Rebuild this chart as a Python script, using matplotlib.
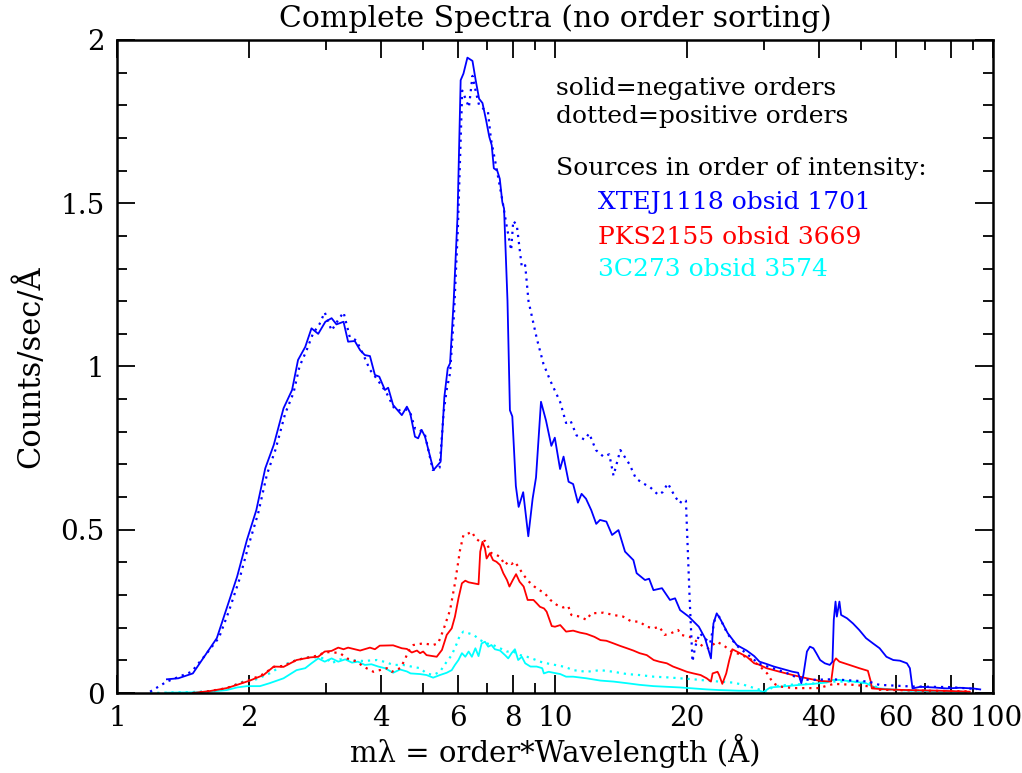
import matplotlib
matplotlib.use("Agg")
import matplotlib.pyplot as plt
from matplotlib.ticker import FixedLocator, NullFormatter

# ── Data ─────────────────────────────────────────────────────────────
# XTEJ1118 obsid 1701
xte_neg_wav = [1.30, 1.38, 1.49, 1.69, 1.78, 1.88, 1.98, 2.08, 2.18, 2.28, 2.40, 2.51,
               2.59, 2.69, 2.78, 2.88, 2.99, 3.09, 3.17, 3.29, 3.37, 3.49, 3.59, 3.68,
               3.78, 3.88, 3.97, 4.09, 4.16, 4.27, 4.47, 4.59, 4.67, 4.79, 4.87, 4.96,
               5.05, 5.28, 5.48, 5.59, 5.69, 5.76, 5.87, 5.99, 6.09, 6.18, 6.31, 6.48,
               6.59, 6.71, 6.83, 6.96, 7.08, 7.17, 7.25, 7.38, 7.48, 7.58, 7.65, 7.79,
               7.89, 7.99, 8.14, 8.26, 8.46, 8.69, 8.89, 9.05, 9.29, 9.54, 9.81, 9.99,
               10.27, 10.46, 10.74, 11.0, 11.28, 11.5, 11.77, 12.1, 12.42, 12.67, 13.1,
               13.5, 13.96, 14.45, 15.1, 15.36, 16.05, 16.4, 16.78, 17.55, 18.3, 18.8,
               19.3, 20.2, 21.3, 22.0, 22.7, 23.0, 23.4, 23.9, 24.8, 26.0, 27.4, 28.5,
               29.3, 30.4, 31.6, 32.6, 33.8, 34.9, 35.9, 36.5, 36.9, 37.6, 38.2, 38.9,
               39.5, 40.3, 41.3, 42.4, 43.0, 43.3, 43.7, 44.0, 44.6, 45.0, 46.4, 47.9,
               49.5, 51.3, 53.2, 55.1, 57.1, 59.2, 61.3, 63.6, 64.6, 65.5, 68.2, 73.1,
               78.4, 84.0, 89.9, 93.5]
xte_neg_val = [0.042, 0.045, 0.060, 0.168, 0.260, 0.356, 0.469, 0.560, 0.688, 0.760, 0.872, 0.928,
               1.020, 1.060, 1.117, 1.100, 1.137, 1.148, 1.129, 1.137, 1.076, 1.078, 1.050, 1.035,
               1.032, 0.974, 0.969, 0.928, 0.935, 0.882, 0.851, 0.877, 0.857, 0.785, 0.780, 0.806,
               0.785, 0.683, 0.708, 0.907, 0.995, 1.010, 1.200, 1.459, 1.877, 1.897, 1.946, 1.936,
               1.877, 1.820, 1.807, 1.755, 1.703, 1.678, 1.607, 1.600, 1.575, 1.504, 1.484, 1.201,
               0.866, 0.847, 0.634, 0.570, 0.615, 0.480, 0.595, 0.660, 0.892, 0.834, 0.757, 0.782,
               0.686, 0.724, 0.647, 0.640, 0.583, 0.610, 0.595, 0.560, 0.518, 0.530, 0.525,
               0.484, 0.499, 0.433, 0.407, 0.367, 0.346, 0.350, 0.315, 0.321, 0.285, 0.290,
               0.254, 0.234, 0.203, 0.168, 0.106, 0.213, 0.244, 0.224, 0.183, 0.147, 0.130, 0.113,
               0.096, 0.089, 0.081, 0.076, 0.070, 0.065, 0.062, 0.030, 0.055, 0.127, 0.142, 0.137,
               0.122, 0.101, 0.091, 0.086, 0.096, 0.224, 0.280, 0.234, 0.280, 0.239, 0.229, 0.213,
               0.193, 0.168, 0.152, 0.137, 0.111, 0.101, 0.099, 0.091, 0.076, 0.014, 0.019, 0.017,
               0.014, 0.016, 0.014, 0.011]

xte_pos_wav = [1.19, 1.30, 1.48, 1.60, 1.71, 1.80, 1.90, 2.00, 2.10, 2.20, 2.30, 2.42,
               2.53, 2.61, 2.71, 2.80, 2.90, 2.98, 3.09, 3.19, 3.29, 3.40, 3.52, 3.64,
               3.78, 3.93, 4.12, 4.30, 4.40, 4.55, 4.67, 4.79, 4.87, 4.97, 5.05, 5.26,
               5.45, 5.57, 5.66, 5.76, 5.88, 6.00, 6.14, 6.25, 6.36, 6.48, 6.60, 6.71,
               6.85, 7.03, 7.14, 7.34, 7.58, 7.75, 7.94, 8.03, 8.18, 8.40, 8.55, 8.70,
               9.09, 9.41, 9.76, 10.27, 10.6, 10.85, 11.2, 11.68, 11.97, 12.4, 12.9,
               13.3, 13.6, 14.1, 14.8, 15.3, 15.9, 16.5, 17.2, 17.6, 18.1, 18.8, 19.3,
               19.5, 19.9, 20.3, 20.6, 20.9, 21.4, 22.6, 23.2, 23.7, 24.8, 26.0, 27.4,
               29.2, 31.6, 34.0, 36.0, 38.0, 43.0, 48.0, 52.0, 55.0, 65.0, 80.0, 92.0]
xte_pos_val = [0.004, 0.035, 0.065, 0.120, 0.170, 0.250, 0.345, 0.455, 0.550, 0.670, 0.745, 0.855,
               0.920, 1.000, 1.050, 1.100, 1.130, 1.166, 1.110, 1.140, 1.166, 1.090, 1.080, 1.040,
               0.990, 0.960, 0.920, 0.870, 0.866, 0.870, 0.860, 0.810, 0.810, 0.800, 0.790, 0.683,
               0.690, 0.860, 0.930, 0.980, 1.160, 1.420, 1.845, 1.820, 1.794, 1.890, 1.840, 1.800,
               1.790, 1.780, 1.697, 1.613, 1.510, 1.433, 1.356, 1.446, 1.433, 1.304, 1.310, 1.200,
               1.085, 1.008, 0.956, 0.892, 0.827, 0.834, 0.789, 0.776, 0.795, 0.744, 0.724,
               0.731, 0.666, 0.744, 0.700, 0.657, 0.642, 0.630, 0.607, 0.615, 0.642, 0.601, 0.581,
               0.591, 0.589, 0.286, 0.096, 0.142, 0.183, 0.152, 0.229, 0.234, 0.180, 0.145, 0.120,
               0.090, 0.075, 0.060, 0.045, 0.040, 0.042, 0.038, 0.035, 0.025, 0.020, 0.018, 0.012]

# PKS2155 obsid 3669
pks_neg_wav = [1.49, 1.63, 1.78, 1.88, 2.01, 2.16, 2.28, 2.40, 2.57, 2.76, 2.88, 2.98,
               3.09, 3.20, 3.29, 3.37, 3.59, 3.78, 3.88, 3.98, 4.27, 4.47, 4.59, 4.71,
               4.84, 4.92, 5.00, 5.09, 5.37, 5.52, 5.66, 5.81, 5.91, 6.02, 6.13, 6.24,
               6.35, 6.52, 6.69, 6.75, 6.83, 6.92, 6.98, 7.10, 7.22, 7.35, 7.49, 7.62,
               7.77, 7.87, 8.01, 8.15, 8.30, 8.48, 8.66, 8.93, 9.08, 9.24, 9.44, 9.57,
               9.83, 10.0, 10.28, 10.6, 11.0, 11.4, 11.8, 12.3, 12.7, 13.1, 13.6, 14.1,
               14.6, 15.1, 15.6, 16.2, 16.8, 17.3, 18.0, 18.6, 19.3, 20.0, 20.7, 21.5,
               22.2, 22.7, 22.9, 23.5, 23.7, 24.1, 24.6, 25.0, 25.4, 26.0, 27.4, 28.5,
               29.2, 30.4, 32.6, 34.9, 37.6, 40.3, 42.7, 43.3, 43.8, 44.6, 47.0, 49.5,
               51.8, 52.6, 52.9, 57.1, 63.6, 75.6, 88.5]
pks_neg_val = [0.000, 0.006, 0.015, 0.025, 0.038, 0.055, 0.081, 0.080, 0.101, 0.109, 0.111, 0.127,
               0.129, 0.139, 0.134, 0.139, 0.130, 0.139, 0.134, 0.145, 0.146, 0.137, 0.135, 0.124,
               0.130, 0.122, 0.127, 0.116, 0.111, 0.132, 0.178, 0.198, 0.234, 0.290, 0.336, 0.344,
               0.339, 0.336, 0.333, 0.433, 0.463, 0.443, 0.412, 0.428, 0.407, 0.402, 0.392, 0.367,
               0.346, 0.326, 0.346, 0.364, 0.341, 0.326, 0.285, 0.285, 0.275, 0.264, 0.259, 0.249,
               0.205, 0.203, 0.208, 0.188, 0.191, 0.185, 0.181, 0.172, 0.162, 0.160, 0.152, 0.144,
               0.137, 0.130, 0.122, 0.116, 0.101, 0.096, 0.091, 0.081, 0.073, 0.065, 0.060, 0.055,
               0.045, 0.035, 0.060, 0.065, 0.055, 0.028, 0.060, 0.101, 0.134, 0.127, 0.111, 0.091,
               0.087, 0.076, 0.065, 0.055, 0.045, 0.037, 0.035, 0.096, 0.106, 0.096, 0.086, 0.076,
               0.068, 0.035, 0.014, 0.011, 0.009, 0.007, 0.004]

pks_pos_wav = [1.49, 1.63, 1.78, 1.88, 2.01, 2.16, 2.28, 2.40, 2.57, 2.76, 2.88, 2.98,
               3.09, 3.23, 3.35, 3.53, 3.65, 3.85, 3.98, 4.13, 4.24, 4.43, 4.54, 4.62,
               4.75, 5.00, 5.27, 5.41, 5.56, 5.76, 5.91, 6.07, 6.18, 6.35, 6.46, 6.58,
               6.75, 6.92, 7.04, 7.16, 7.35, 7.49, 7.69, 7.82, 7.96, 8.10, 8.24, 8.48,
               8.72, 8.97, 9.22, 9.48, 9.76, 10.09, 10.44, 10.72, 10.9, 11.4, 11.8, 12.1,
               12.9, 13.6, 14.3, 14.9, 15.6, 16.2, 16.8, 17.3, 17.8, 18.4, 19.1, 19.4,
               20.3, 21.1, 21.8, 22.4, 23.4, 24.2, 25.3, 26.0, 27.8, 29.2, 30.5, 31.5,
               32.5, 35.0, 40.0, 43.3, 48.0, 52.5, 55.0, 65.0, 80.0, 88.0]
pks_pos_val = [0.000, 0.006, 0.015, 0.027, 0.040, 0.058, 0.080, 0.083, 0.101, 0.110, 0.115, 0.125,
               0.125, 0.122, 0.106, 0.096, 0.081, 0.065, 0.070, 0.076, 0.065, 0.076, 0.101, 0.127,
               0.147, 0.152, 0.147, 0.152, 0.193, 0.254, 0.336, 0.438, 0.484, 0.489, 0.494, 0.474,
               0.463, 0.466, 0.448, 0.428, 0.423, 0.417, 0.392, 0.402, 0.395, 0.402, 0.387, 0.361,
               0.341, 0.326, 0.315, 0.305, 0.285, 0.270, 0.262, 0.266, 0.239, 0.234, 0.224, 0.244,
               0.246, 0.239, 0.234, 0.220, 0.218, 0.203, 0.198, 0.203, 0.178, 0.183, 0.193, 0.178,
               0.172, 0.157, 0.142, 0.137, 0.157, 0.147, 0.127, 0.122, 0.106, 0.085, 0.060, 0.030,
               0.020, 0.015, 0.015, 0.028, 0.025, 0.020, 0.010, 0.008, 0.006, 0.005]

# 3C273 obsid 3574
qso_neg_wav = [1.30, 1.49, 1.63, 1.78, 1.88, 1.98, 2.12, 2.23, 2.40, 2.57, 2.69, 2.78,
               2.88, 2.98, 3.09, 3.20, 3.32, 3.44, 3.55, 3.68, 3.81, 3.95, 4.09, 4.27,
               4.43, 4.59, 4.68, 4.92, 5.09, 5.27, 5.46, 5.66, 5.81, 5.91, 6.02, 6.13,
               6.24, 6.35, 6.46, 6.58, 6.69, 6.80, 6.92, 7.04, 7.16, 7.29, 7.49, 7.69,
               7.82, 7.96, 8.10, 8.24, 8.40, 8.55, 8.79, 9.08, 9.35, 9.43, 9.67, 9.92,
               10.28, 10.6, 11.0, 11.8, 12.7, 13.6, 14.6, 15.6, 16.8, 18.0, 19.3, 20.7,
               22.2, 23.7, 26.3, 29.3, 29.9, 31.0, 33.8, 36.3, 38.9, 41.6, 43.0, 44.6,
               47.9, 51.3, 52.9, 55.1, 63.0, 75.6, 87.0]
qso_neg_val = [0.001, 0.002, 0.004, 0.009, 0.017, 0.021, 0.021, 0.030, 0.045, 0.070, 0.076, 0.091,
               0.106, 0.096, 0.106, 0.096, 0.103, 0.093, 0.096, 0.086, 0.088, 0.081, 0.076, 0.062,
               0.072, 0.066, 0.060, 0.058, 0.055, 0.047, 0.055, 0.062, 0.070, 0.086, 0.101, 0.122,
               0.111, 0.127, 0.111, 0.137, 0.113, 0.152, 0.157, 0.142, 0.147, 0.134, 0.130, 0.116,
               0.106, 0.122, 0.134, 0.101, 0.111, 0.091, 0.081, 0.081, 0.076, 0.060, 0.065, 0.062,
               0.058, 0.050, 0.050, 0.045, 0.038, 0.035, 0.030, 0.025, 0.021, 0.019, 0.017, 0.014,
               0.011, 0.009, 0.007, 0.007, 0.003, 0.017, 0.021, 0.025, 0.028, 0.032, 0.040, 0.040,
               0.035, 0.030, 0.021, 0.014, 0.008, 0.004, 0.003]

qso_pos_wav = [1.19, 1.49, 1.63, 1.78, 1.94, 2.08, 2.23, 2.40, 2.57, 2.76, 2.88, 3.01,
               3.09, 3.23, 3.41, 3.65, 3.92, 4.10, 4.27, 4.50, 4.70, 4.92, 5.09, 5.27,
               5.46, 5.66, 5.81, 5.97, 6.07, 6.18, 6.35, 6.52, 6.75, 6.98, 7.22, 7.49,
               7.77, 8.03, 8.33, 8.63, 8.97, 9.24, 9.57, 10.0, 10.44, 10.72, 11.0, 11.8,
               12.7, 13.6, 14.6, 15.6, 16.8, 18.0, 19.3, 20.7, 22.2, 23.7, 25.4, 27.0,
               29.0, 30.5, 31.5, 34.0, 38.0, 43.0, 48.0, 52.5, 55.0, 65.0, 80.0, 85.0]
qso_pos_val = [0.000, 0.003, 0.006, 0.014, 0.035, 0.042, 0.060, 0.086, 0.101, 0.111, 0.108, 0.106,
               0.091, 0.103, 0.101, 0.098, 0.101, 0.095, 0.086, 0.086, 0.081, 0.076, 0.060, 0.055,
               0.065, 0.096, 0.116, 0.152, 0.178, 0.188, 0.183, 0.178, 0.162, 0.152, 0.147, 0.137,
               0.127, 0.127, 0.116, 0.111, 0.103, 0.096, 0.091, 0.086, 0.081, 0.076, 0.070, 0.065,
               0.070, 0.065, 0.058, 0.055, 0.050, 0.048, 0.045, 0.042, 0.038, 0.035, 0.032, 0.025,
               0.012, 0.004, 0.020, 0.025, 0.028, 0.035, 0.035, 0.030, 0.012, 0.008, 0.005, 0.004]

x_major = [1, 2, 4, 6, 8, 10, 20, 40, 60, 80, 100]
x_minor = [3, 5, 7, 9, 30, 50, 70, 90]
x_labels = ["1", "2", "4", "6", "8", "10", "20", "40", "60", "80", "100"]
y_major = [0, 0.5, 1, 1.5, 2]
y_labels = ["0", "0.5", "1", "1.5", "2"]

BLUE, RED, CYAN = "#0000ff", "#ff0000", "#00ffff"
FONT = "DejaVu Serif"
DOT = (0, (1, 2.2))

plt.rcParams["font.family"] = FONT

fig = plt.figure(figsize=(10.22, 7.73), dpi=100)
ax = fig.add_axes([117 / 1022, 1 - 693 / 773, (993 - 117) / 1022, (693 - 40) / 773])

for wav, val, col, ls in [
    (qso_pos_wav, qso_pos_val, CYAN, DOT),
    (qso_neg_wav, qso_neg_val, CYAN, "-"),
    (pks_pos_wav, pks_pos_val, RED, DOT),
    (pks_neg_wav, pks_neg_val, RED, "-"),
    (xte_pos_wav, xte_pos_val, BLUE, DOT),
    (xte_neg_wav, xte_neg_val, BLUE, "-"),
]:
    ax.plot(wav, val, color=col, linestyle=ls, linewidth=1.3 if ls == "-" else 1.6)

ax.set_xscale("log")
ax.set_xlim(1, 100)
ax.set_ylim(0, 2)
ax.xaxis.set_major_locator(FixedLocator(x_major))
ax.xaxis.set_minor_locator(FixedLocator(x_minor))
ax.xaxis.set_minor_formatter(NullFormatter())
ax.set_xticklabels(x_labels)
ax.set_yticks(y_major)
ax.set_yticklabels(y_labels)
ax.yaxis.set_minor_locator(FixedLocator([i / 10 for i in range(21)]))

ax.tick_params(which="both", direction="in", top=True, right=True, width=1.3,
               labelsize=20, colors="black")
ax.tick_params(which="major", length=13, pad=9)
ax.tick_params(which="minor", length=7)
for s in ax.spines.values():
    s.set_linewidth(1.8)

# the "80" and "100" labels sit flush against each other, nudge them apart
xt = ax.get_xticklabels()
xt[-2].set_horizontalalignment("right")
xt[-2].set_x(80)
from matplotlib.transforms import ScaledTranslation
xt[-2].set_transform(xt[-2].get_transform() + ScaledTranslation(0.14, 0, fig.dpi_scale_trans))
xt[-1].set_transform(xt[-1].get_transform() + ScaledTranslation(0.03, 0, fig.dpi_scale_trans))

ax.set_title("Complete Spectra (no order sorting)", fontsize=21.5, pad=9)
ax.set_xlabel("m\u03bb = order*Wavelength (\u00c5)", fontsize=21, labelpad=1)
ax.set_ylabel("Counts/sec/\u00c5", fontsize=22, labelpad=10)

# annotation block
def ftext(x, y, s, color="black", size=18):
    fig.text(x / 1022, 1 - y / 773, s, color=color, fontsize=size, va="center", ha="left")

ftext(556, 88, "solid=negative orders")
ftext(556, 116, "dotted=positive orders")
ftext(556, 168, "Sources in order of intensity:")
ftext(598, 203, "XTEJ1118 obsid 1701", BLUE)
ftext(598, 237, "PKS2155 obsid 3669", RED)
ftext(598, 270, "3C273 obsid 3574", CYAN)

fig.savefig("out.png", dpi=100)
